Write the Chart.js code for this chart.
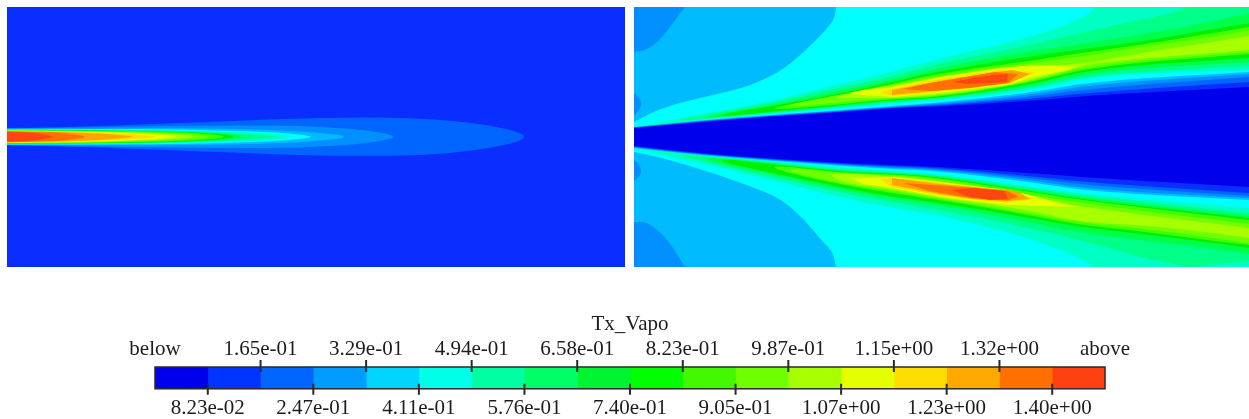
<!DOCTYPE html>
<html>
<head>
<meta charset="utf-8">
<title>Tx_Vapo</title>
<script src="https://cdn.jsdelivr.net/npm/chart.js@4/dist/chart.umd.min.js"></script>
<style>
  html, body { margin: 0; background: #fff; overflow: hidden; }
  canvas { position: absolute; filter: blur(0.5px); }
  #leftChart { left: 7px; top: 7px; }
  #rightChart { left: 634px; top: 7px; }
  #barChart { left: 60px; top: 312px; }
</style>
</head>
<body>
<canvas id="leftChart" width="618" height="260"></canvas>
<canvas id="rightChart" width="615" height="260"></canvas>
<canvas id="barChart" width="1140" height="116"></canvas>
<script>
// Colour bands, lowest to highest
const bandColors = ["#0000ec", "#0a2eff", "#0066ff", "#0090ff", "#00bcff", "#00ffff", "#00ffc4", "#00ff88",
  "#00ff48", "#00f000", "#40ff00", "#70ff00", "#a8ff00", "#e8ff00", "#ffdc00", "#ffa400", "#ff7000", "#ff4610"];
const barColors = ["#0000ee", "#0033ff", "#0066ff", "#009cff", "#00d4ff", "#00ffe8", "#00ffa0", "#00ff66",
  "#00f530", "#00ff00", "#44f800", "#70ff00", "#a8ff00", "#e4ff00", "#ffdd00", "#ffa800", "#ff7000", "#ff4010"];

// Colour bar
const bandEdges = [0, 0.0823, 0.1646, 0.2469, 0.3292, 0.4115, 0.4938, 0.5761, 0.6584, 0.7407, 0.823, 0.9053,
  0.9876, 1.0699, 1.1522, 1.2345, 1.3168, 1.3991, 1.4814];
const topTicks = [0, 0.1646, 0.3292, 0.4938, 0.6584, 0.823, 0.9876, 1.1522, 1.3168, 1.4814];
const topLabels = ["below", "1.65e-01", "3.29e-01", "4.94e-01", "6.58e-01", "8.23e-01", "9.87e-01", "1.15e+00", "1.32e+00", "above"];
const bottomTicks = [0.0823, 0.2469, 0.4115, 0.5761, 0.7407, 0.9053, 1.0699, 1.2345, 1.3991];
const bottomLabels = ["8.23e-02", "2.47e-01", "4.11e-01", "5.76e-01", "7.40e-01", "9.05e-01", "1.07e+00", "1.23e+00", "1.40e+00"];

// Left plume: [x, half width] on each side of the centre line
const plumeCentre = 136.7;
const plume2 = [[0, 8.5], [60, 9.5], [120, 11.5], [200, 14.5], [300, 18.5], [380, 19.5], [440, 17.5], [490, 11.5], [518, 5], [526, 0]];
const plume3 = [[0, 8.2], [60, 9], [120, 10], [200, 11], [280, 11.5], [340, 9], [378, 5], [398, 0]];
const plume4 = [[0, 8], [100, 8.2], [170, 8.8], [250, 7.5], [300, 5.5], [335, 2.5], [347, 0]];
const plume5 = [[0, 7.8], [100, 7.8], [170, 7.5], [250, 5.5], [290, 3.5], [317, 0]];
const plume6 = [[0, 7.5], [100, 7.2], [170, 6.5], [240, 4.5], [275, 2.5], [295, 0]];
const plume7 = [[0, 7.2], [100, 6.8], [170, 6], [235, 3.5], [265, 1.5], [280, 0]];
const plume8 = [[0, 7], [100, 6.4], [170, 5.4], [225, 3.5], [250, 0]];
const plume9 = [[0, 6.8], [100, 6.2], [170, 5.2], [215, 3.2], [240, 0]];
const plume10 = [[0, 6.6], [100, 5.9], [170, 4.8], [210, 2.8], [228, 0]];
const plume11 = [[0, 6.4], [100, 5.6], [160, 4.3], [195, 2.4], [212, 0]];
const plume12 = [[0, 6.2], [90, 5.4], [140, 4], [180, 2.2], [198, 0]];
const plume13 = [[0, 6], [80, 5.2], [130, 3.8], [165, 2], [180, 0]];
const plume14 = [[0, 5.8], [70, 5], [110, 3.8], [140, 2], [160, 0]];
const plume15 = [[0, 5.6], [60, 4.8], [100, 3.2], [125, 1.2], [135, 0]];
const plume16 = [[0, 5.5], [50, 4.6], [72, 3], [88, 0]];
const plume17 = [[0, 5], [30, 4.5], [45, 2], [55, 0]];

// Right panel background regions
const rightBase = [[634, 7], [1249, 7], [1249, 267], [634, 267]];
const rightOuter = [[685, 7], [1249, 7], [1249, 267], [685, 267], [670, 243], [660, 232], [647, 222], [634, 222],
  [634, 181], [638, 178], [642, 172], [640, 165], [634, 160], [634, 116], [638, 112], [642, 105], [640, 98], [634, 93],
  [634, 52], [647, 50], [660, 40], [670, 27]];
const rightCyan = [[836, 7], [1249, 7], [1249, 267], [836, 267], [833, 252], [823, 242], [803, 218], [780, 198], [747, 185],
  [713, 173], [663, 158], [634, 152], [634, 122], [663, 107], [713, 95], [747, 87], [780, 72], [803, 53], [823, 33], [830, 25], [835, 17]];

// Right panel, upper ridge
const upper6 = [[640, 125.5], [697, 115], [763, 103], [843, 83], [892, 72], [940, 58], [990, 47], [1030, 37], [1057, 28], [1073, 22], [1087, 15], [1095, 7],
  [1249, 7], [1249, 70], [1095, 75], [1030, 91], [940, 100], [892, 103], [843, 108], [763, 114], [697, 120], [640, 127]];
const upper7 = [[680, 119], [763, 105], [843, 87], [892, 77], [940, 63], [1007, 50], [1073, 35], [1107, 27], [1140, 20], [1173, 13], [1188, 7],
  [1249, 7], [1249, 66], [1095, 74], [1030, 89], [940, 99], [892, 102], [843, 107], [763, 113.5], [680, 121]];
const upper8 = [[705, 116], [763, 107], [843, 90], [892, 80], [940, 68], [1007, 55], [1073, 45], [1140, 35], [1207, 23], [1249, 13],
  [1249, 62], [1095, 71], [1030, 87], [940, 98.5], [892, 101], [843, 106], [763, 113], [705, 118.5]];
const upper9 = [[722, 113.5], [763, 108], [843, 93], [892, 82], [940, 71], [1007, 60], [1073, 50], [1140, 42], [1207, 30], [1249, 23],
  [1249, 58], [1095, 68], [1030, 85], [940, 98], [892, 100], [843, 105], [763, 112.5], [722, 116.5]];
const upper10 = [[775, 107], [843, 94], [892, 84], [940, 73], [1030, 61], [1073, 54], [1140, 45], [1207, 34], [1249, 27],
  [1249, 54], [1095, 66], [1030, 83], [940, 97], [892, 99], [843, 104], [775, 110]];
const upper11 = [[790, 104], [843, 95], [892, 85], [940, 75], [1030, 63], [1073, 58], [1140, 47], [1207, 38], [1249, 30],
  [1249, 52], [1095, 64], [1030, 82], [940, 96], [892, 98], [843, 102], [790, 107]];
const upper12 = [[830, 98], [870, 89], [892, 85.5], [940, 77], [1030, 65], [1080, 65], [1140, 53], [1207, 43], [1249, 36],
  [1249, 50], [1095, 62], [1067, 71], [1030, 80], [1007, 86], [940, 95], [892, 98], [855, 98]];
const upper13 = [[850, 93], [863, 90], [892, 87], [940, 77], [1000, 68], [1030, 65.5], [1078, 66], [1067, 70], [1030, 78], [1007, 85], [940, 93], [892, 97], [863, 95]];
const upper14 = [[880, 92], [892, 89], [940, 79], [1000, 70], [1036, 72], [1005, 84], [940, 91.5], [892, 96]];
const upper15 = [[892, 90], [940, 81], [1012, 70], [1030, 74], [1010, 83], [940, 90.5], [892, 95]];
const upper16 = [[903, 89], [930, 83], [965, 77], [995, 72], [1018, 74], [1008, 83], [970, 88], [930, 91]];
const upper17 = [[953, 82], [973, 78], [993, 75], [1008, 74], [1007, 82], [990, 83], [967, 84]];

// Right panel, lower ridge
const lower6 = [[640, 148], [697, 154], [763, 160], [843, 168], [892, 171], [940, 174.5], [1030, 187], [1095, 195], [1249, 208],
  [1249, 267], [1095, 267], [1073, 255], [1030, 238], [940, 215], [892, 208], [843, 198], [763, 178], [697, 162], [640, 150]];
const lower7 = [[680, 154], [763, 161.5], [843, 170], [892, 172], [940, 175], [1030, 188], [1095, 197], [1249, 213],
  [1249, 261], [1188, 267], [1140, 257], [1095, 244], [1030, 228], [940, 210], [892, 202], [843, 193], [763, 175], [680, 156]];
const lower8 = [[705, 157], [763, 162.5], [843, 171], [892, 173], [940, 176], [1030, 190], [1095, 199], [1249, 216],
  [1249, 254], [1207, 248], [1140, 240], [1073, 232], [1030, 222], [940, 205], [892, 199], [843, 190], [763, 172.5], [705, 160]];
const lower9 = [[722, 159], [763, 163], [843, 172], [892, 173.5], [940, 177], [1030, 191], [1095, 201], [1249, 218],
  [1249, 248], [1207, 242], [1140, 234], [1073, 226], [1030, 218], [940, 203], [892, 197], [843, 188], [763, 171], [722, 162]];
const lower10 = [[775, 165], [843, 173], [892, 174], [940, 178], [1030, 192], [1095, 202], [1249, 220],
  [1249, 245], [1207, 240], [1140, 231], [1073, 224], [1030, 215], [940, 200], [892, 193], [843, 185], [775, 170]];
const lower11 = [[790, 167], [843, 174], [892, 175], [940, 179], [1030, 195], [1095, 205], [1249, 224],
  [1249, 243], [1207, 237], [1140, 228], [1073, 222], [1030, 213], [940, 199], [892, 191], [843, 184], [790, 172]];
const lower12 = [[825, 172], [892, 176], [940, 181], [1030, 197], [1095, 209], [1249, 228],
  [1249, 238], [1207, 232], [1140, 225], [1078, 222], [1030, 210], [940, 198], [892, 189], [843, 183]];
const lower13 = [[850, 178], [892, 177], [940, 182], [1007, 190], [1030, 195], [1067, 205], [1078, 207], [1040, 206], [1007, 205], [940, 197], [892, 188], [863, 184]];
const lower14 = [[880, 179], [892, 178], [940, 183], [1000, 190], [1036, 199], [1005, 203], [940, 195.5], [892, 187]];
const lower15 = [[892, 178], [940, 184], [973, 187], [1017, 191], [1030, 199], [1007, 201], [973, 199], [940, 194], [892, 185]];
const lower16 = [[903, 183], [940, 185.5], [973, 188], [1008, 191], [1018, 197], [1007, 200.5], [970, 198], [930, 191]];
const lower17 = [[952, 190], [973, 188], [1005, 191], [1008, 199], [990, 200], [967, 196]];

// Dark wedge in the middle of the right panel and the thin blue bands on its edges
const wedge4 = [[634, 127], [697, 120.5], [763, 115.5], [843, 110], [892, 106], [940, 102.5], [1030, 93], [1095, 81], [1249, 72],
  [1249, 200], [1095, 192], [1030, 182], [940, 171], [892, 169], [843, 166], [763, 160], [697, 155], [634, 148]];
const wedge3 = [[634, 127.3], [697, 121], [763, 116], [843, 110.5], [892, 106.5], [940, 103.5], [1030, 95], [1095, 84], [1249, 74],
  [1249, 198], [1095, 190], [1030, 180], [940, 170], [892, 168], [843, 165], [763, 159.5], [697, 154.5], [634, 147.5]];
const wedge2 = [[634, 127.6], [697, 121.5], [763, 116.3], [843, 111], [892, 107], [940, 104.5], [1030, 97], [1095, 88], [1249, 77],
  [1249, 196], [1095, 186], [1030, 178], [940, 169], [892, 167], [843, 164.5], [763, 159], [697, 154], [634, 147]];
const wedge1 = [[634, 127.8], [697, 122], [763, 116.6], [843, 111.5], [892, 107.5], [940, 105.5], [1030, 99], [1095, 92], [1249, 82],
  [1249, 193], [1095, 183], [1030, 176], [940, 168], [892, 166], [843, 164], [763, 158.5], [697, 153.5], [634, 146.5]];
const wedge0 = [[634, 128], [697, 122.5], [763, 117], [843, 112], [892, 108], [940, 106.5], [1030, 101], [1095, 95], [1249, 87],
  [1249, 187], [1095, 178], [1030, 173], [940, 167], [892, 165], [843, 163], [763, 158], [697, 153], [634, 146]];

// Regions as [band, points], painted in this order
const leftRegions = [[2, plume2], [3, plume3], [4, plume4], [5, plume5], [6, plume6], [7, plume7], [8, plume8], [9, plume9],
  [10, plume10], [11, plume11], [12, plume12], [13, plume13], [14, plume14], [15, plume15], [16, plume16], [17, plume17]];
const rightRegions = [[3, rightBase], [4, rightOuter], [5, rightCyan],
  [6, upper6], [7, upper7], [8, upper8], [9, upper9], [10, upper10], [11, upper11], [12, upper12], [13, upper13], [14, upper14], [15, upper15], [16, upper16], [17, upper17],
  [6, lower6], [7, lower7], [8, lower8], [9, lower9], [10, lower10], [11, lower11], [12, lower12], [13, lower13], [14, lower14], [15, lower15], [16, lower16], [17, lower17],
  [4, wedge4], [3, wedge3], [2, wedge2], [1, wedge1], [0, wedge0]];

// Fills each dataset as a closed region from the points the scales have placed.
// Rounded regions curve through midpoints but keep sharp corners on the panel edge.
const regionFill = {
  id: "regionFill",
  beforeDatasetDraw(chart, args) {
    const ctx = chart.ctx;
    const area = chart.chartArea;
    const pts = args.meta.data;
    const ds = chart.data.datasets[args.index];
    const onEdge = p => p.x <= area.left + 0.5 || p.x >= area.right - 0.5 || p.y <= area.top + 0.5 || p.y >= area.bottom - 0.5;
    ctx.save();
    ctx.beginPath();
    ctx.rect(area.left, area.top, area.width, area.height);
    ctx.clip();
    ctx.beginPath();
    if (ds.rounded) {
      const last = pts[pts.length - 1];
      ctx.moveTo((last.x + pts[0].x) / 2, (last.y + pts[0].y) / 2);
      pts.forEach((p, i) => {
        const next = pts[(i + 1) % pts.length];
        const midX = (p.x + next.x) / 2;
        const midY = (p.y + next.y) / 2;
        if (onEdge(p)) {
          ctx.lineTo(p.x, p.y);
          ctx.lineTo(midX, midY);
        } else {
          ctx.quadraticCurveTo(p.x, p.y, midX, midY);
        }
      });
    } else {
      pts.forEach((p, i) => (i ? ctx.lineTo(p.x, p.y) : ctx.moveTo(p.x, p.y)));
    }
    ctx.closePath();
    ctx.fillStyle = ds.backgroundColor;
    ctx.fill();
    ctx.restore();
    return false;
  }
};

function panelBackground(color) {
  return {
    id: "panelBackground",
    beforeDraw(chart) {
      chart.ctx.fillStyle = color;
      chart.ctx.fillRect(0, 0, chart.width, chart.height);
    }
  };
}

function contourChart(id, xMin, xMax, background, datasets) {
  // Chart.js paints the first dataset last, so the list is turned round
  return new Chart(document.getElementById(id), {
    type: "scatter",
    data: { datasets: datasets.reverse() },
    options: {
      responsive: false,
      animation: false,
      events: [],
      layout: { padding: 0 },
      plugins: { legend: { display: false }, tooltip: { enabled: false } },
      scales: {
        x: { type: "linear", display: false, min: xMin, max: xMax },
        y: { type: "linear", display: false, min: 7, max: 267, reverse: true }
      }
    },
    plugins: [regionFill, background]
  });
}

// Left panel: each plume band goes out along the top and back along the bottom
const leftDatasets = leftRegions.map(([band, profile]) => ({
  backgroundColor: bandColors[band],
  rounded: true,
  pointRadius: 0,
  data: profile.map(([x, h]) => ({ x, y: plumeCentre - h }))
    .concat(profile.slice(0, -1).reverse().map(([x, h]) => ({ x, y: plumeCentre + h })))
}));
contourChart("leftChart", 7, 625, panelBackground(bandColors[1]), leftDatasets);

// The hot core of the right panel stays angular, the rest is smooth
const rightDatasets = rightRegions.map(([band, points]) => ({
  backgroundColor: bandColors[band],
  rounded: band < 13,
  pointRadius: 0,
  data: points.map(([x, y]) => ({ x, y }))
}));
contourChart("rightChart", 634, 1249, panelBackground(bandColors[3]), rightDatasets);

// Tick marks cross the edge of the bar, and the frame goes on top
const barFrame = {
  id: "barFrame",
  afterDatasetsDraw(chart) {
    const ctx = chart.ctx;
    const area = chart.chartArea;
    ctx.save();
    ctx.strokeStyle = "#2a2a2a";
    ctx.lineWidth = 1.5;
    ctx.strokeRect(area.left, area.top, area.width, area.height);
    ctx.lineWidth = 2;
    ctx.beginPath();
    topTicks.slice(1, -1).forEach(v => {
      const px = chart.scales.xTop.getPixelForValue(v);
      ctx.moveTo(px, area.top - 7);
      ctx.lineTo(px, area.top + 5);
    });
    bottomTicks.forEach(v => {
      const px = chart.scales.x.getPixelForValue(v);
      ctx.moveTo(px, area.bottom - 5);
      ctx.lineTo(px, area.bottom + 6);
    });
    ctx.stroke();
    ctx.restore();
  }
};

const labelFont = { family: "'Liberation Serif', serif", size: 21 };

new Chart(document.getElementById("barChart"), {
  type: "bar",
  data: {
    labels: ["Tx_Vapo"],
    datasets: barColors.map((color, i) => ({
      data: [[bandEdges[i], bandEdges[i + 1]]],
      backgroundColor: color,
      barPercentage: 1,
      categoryPercentage: 1,
      grouped: false
    }))
  },
  options: {
    indexAxis: "y",
    responsive: false,
    animation: false,
    events: [],
    layout: { padding: { left: 95, right: 95, top: 0, bottom: 0 } },
    plugins: { legend: { display: false }, tooltip: { enabled: false } },
    scales: {
      y: { type: "category", display: false, offset: true },
      x: {
        type: "linear",
        position: "bottom",
        min: 0,
        max: 1.4814,
        border: { display: false },
        grid: { display: false, drawTicks: false },
        afterBuildTicks: axis => { axis.ticks = bottomTicks.map(value => ({ value })); },
        ticks: {
          autoSkip: false,
          maxRotation: 0,
          padding: 7,
          color: "#1c1c1c",
          font: labelFont,
          callback: (value, i) => bottomLabels[i]
        }
      },
      xTop: {
        type: "linear",
        axis: "x",
        position: "top",
        min: 0,
        max: 1.4814,
        border: { display: false },
        grid: { display: false, drawTicks: false },
        title: { display: true, text: "Tx_Vapo", color: "#1c1c1c", font: labelFont, padding: { top: 0, bottom: 1 } },
        afterBuildTicks: axis => { axis.ticks = topTicks.map(value => ({ value })); },
        afterFit: axis => { axis.height = 55; },
        ticks: {
          autoSkip: false,
          maxRotation: 0,
          padding: 5,
          color: "#1c1c1c",
          font: labelFont,
          callback: (value, i) => topLabels[i]
        }
      }
    }
  },
  plugins: [barFrame]
});
</script>
</body>
</html>
